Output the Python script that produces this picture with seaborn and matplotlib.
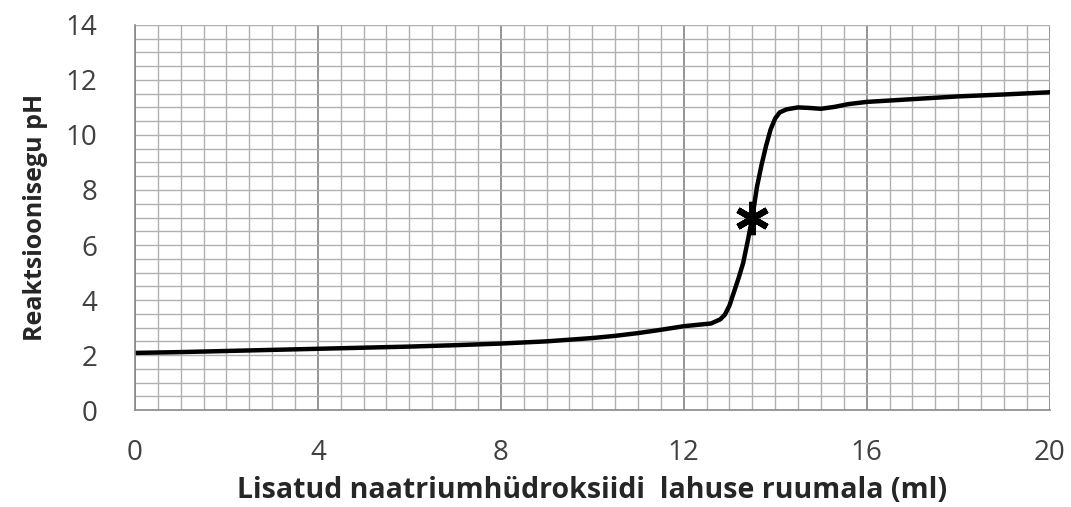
import numpy as np
import pandas as pd
import seaborn as sns
import matplotlib.pyplot as plt
from matplotlib.ticker import MultipleLocator

# NaOH volume (ml) and pH
volume = [0, 1, 2, 3, 4, 5, 6, 7, 8, 9, 10, 10.5, 11, 11.5, 12, 12.3, 12.6, 12.8, 12.9,
          13.0, 13.1, 13.2, 13.3, 13.4, 13.5, 13.6, 13.7, 13.8, 13.9, 14.0, 14.1, 14.25,
          14.5, 14.75, 15.0, 15.3, 15.6, 16, 17, 18, 19, 20]
ph = [2.08, 2.11, 2.15, 2.19, 2.23, 2.27, 2.31, 2.36, 2.42, 2.5, 2.62, 2.7, 2.8, 2.92, 3.05,
      3.1, 3.15, 3.3, 3.47, 3.8, 4.3, 4.8, 5.35, 6.15, 7.0, 8.1, 8.9, 9.6, 10.2, 10.6,
      10.82, 10.93, 11.0, 10.98, 10.95, 11.02, 11.12, 11.2, 11.3, 11.4, 11.47, 11.55]
eq_volume = [13.5]
eq_ph = [7.0]

xticks = [0, 4, 8, 12, 16, 20]
yticks = [0, 2, 4, 6, 8, 10, 12, 14]

df = pd.DataFrame({"volume": volume, "ph": ph})

sns.set_style("white")
plt.rcParams['font.family'] = ['Open Sans', 'DejaVu Sans']

fig = plt.figure(figsize=(10.71, 5.07), dpi=100)
ax = fig.add_axes([0.126, 0.191, 0.854, 0.760])

ax.set_xlim(0, 20)
ax.set_ylim(0, 14)
ax.set_xticks(xticks)
ax.set_yticks(yticks)
ax.xaxis.set_minor_locator(MultipleLocator(0.5))
ax.yaxis.set_minor_locator(MultipleLocator(0.5))

ax.grid(which="minor", color="#b0b0b0", linewidth=1.0)
ax.grid(which="major", axis="y", color="#b0b0b0", linewidth=1.0)
ax.grid(which="major", axis="x", color="#777777", linewidth=1.1)
ax.set_axisbelow(True)

sns.lineplot(data=df, x="volume", y="ph", color="black", linewidth=3.2, ax=ax)
ax.plot(eq_volume, eq_ph, marker=(6, 2, 0), markersize=24, markeredgewidth=4.5,
        color="black", linestyle="none", zorder=5)

for s in ["top", "right"]:
    ax.spines[s].set_visible(False)
for s in ["left", "bottom"]:
    ax.spines[s].set_color("#8a8a8a")
    ax.spines[s].set_linewidth(1.2)

ax.tick_params(axis="both", which="major", direction="out", length=8, width=1.1,
               color="#8a8a8a", labelsize=20, labelcolor="#404040")
ax.tick_params(axis="x", which="major", pad=13)
ax.tick_params(axis="y", which="major", pad=19)
ax.tick_params(which="minor", length=0)

ax.set_xlabel("Lisatud naatriumhüdroksiidi  lahuse ruumala (ml)", fontsize=20.5,
              fontweight="bold", labelpad=6)
ax.set_ylabel("Reaktsioonisegu pH", fontsize=18, fontweight="bold", labelpad=13)

fig.savefig("out.png", dpi=100)
